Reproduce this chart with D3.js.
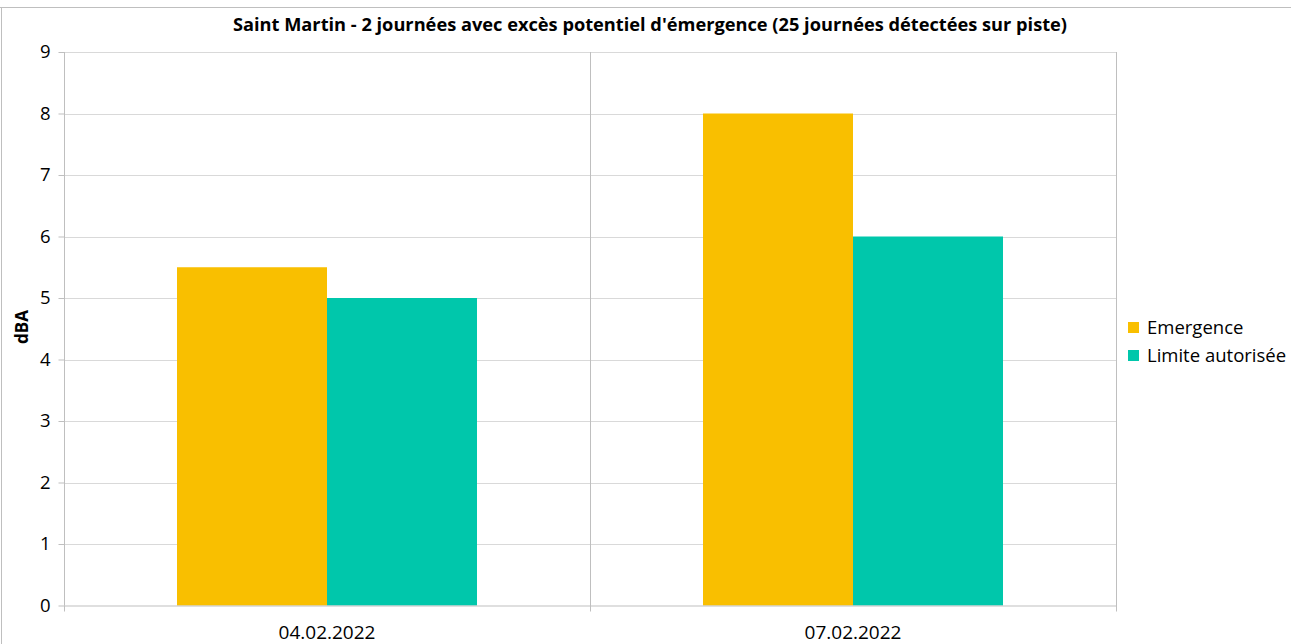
<!DOCTYPE html>
<html><head><meta charset="utf-8">
<script src="https://cdn.jsdelivr.net/npm/d3@7"></script>
<style>body{margin:0;background:#fff}svg{display:block}text{font-family:"Open Sans","Noto Sans",sans-serif;fill:#000}</style>
</head><body><svg id="c" width="1291" height="644"></svg>
<script>
const categories = ["04.02.2022", "07.02.2022"];
const seriesNames = ["Emergence", "Limite autorisée"];
const emergence = [5.5, 8];
const limite = [5, 6];
const yTicks = [0,1,2,3,4,5,6,7,8,9];
const colors = ["#F9BF00", "#00C7AB"];
const titleText = "Saint Martin - 2 journées avec excès potentiel d'émergence (25 journées détectées sur piste)";

const svg = d3.select("#c");
const L = 64, R = 1116, T = 52, B = 605.5;
const x = d3.scaleBand().domain(categories).range([L, R]);
const y = d3.scaleLinear().domain([0, 9]).range([B, T]);
const bw = 150;
const xs = d3.scaleBand().domain(seriesNames).range([0, 2*bw]);

// outer frame
svg.append("line").attr("x1",0).attr("x2",1291).attr("y1",7.5).attr("y2",7.5).attr("stroke","#bfbfbf");
svg.append("line").attr("x1",1.5).attr("x2",1.5).attr("y1",7).attr("y2",644).attr("stroke","#bfbfbf");

// horizontal grid
svg.append("g").selectAll("line").data(yTicks.filter(d=>d>0)).join("line")
  .attr("x1",L).attr("x2",R).attr("y1",d=>Math.round(y(d))+0.5).attr("y2",d=>Math.round(y(d))+0.5)
  .attr("stroke","#d9d9d9");
// vertical grid at category boundaries
const bounds = [L, (L+R)/2, R];
svg.append("g").selectAll("line").data(bounds.slice(1)).join("line")
  .attr("x1",d=>Math.round(d)+0.5).attr("x2",d=>Math.round(d)+0.5).attr("y1",T).attr("y2",B+6)
  .attr("stroke","#bfbfbf");

// bars
const data = categories.map((c,i)=>({c, vals:[emergence[i], limite[i]]}));
const g = svg.append("g");
data.forEach(d=>{
  d.vals.forEach((v,j)=>{
    g.append("rect")
      .attr("x", x(d.c) + (x.bandwidth()-2*bw)/2 + xs(seriesNames[j]))
      .attr("width", xs.bandwidth())
      .attr("y", y(v)).attr("height", y(0)-y(v))
      .attr("fill", colors[j]);
  });
});

// y axis
const ya = svg.append("g").attr("transform",`translate(${L+0.5},0)`)
  .call(d3.axisLeft(y).tickValues(yTicks).tickSize(6).tickPadding(8).tickFormat(d3.format("d")));
ya.select(".domain").attr("stroke","#bfbfbf").attr("d",`M0,${T}V${B}`);
ya.selectAll(".tick line").attr("stroke","#bfbfbf");
ya.selectAll(".tick text").attr("font-size",18.5).attr("font-family","Open Sans").attr("fill","#000");

// x axis
svg.append("line").attr("x1",L).attr("x2",R).attr("y1",B+0.5).attr("y2",B+0.5).attr("stroke","#bfbfbf");
svg.append("line").attr("x1",L+0.5).attr("x2",L+0.5).attr("y1",B).attr("y2",B+6).attr("stroke","#bfbfbf");
svg.append("g").selectAll("text").data(categories).join("text")
  .attr("x",d=>x(d)+x.bandwidth()/2).attr("y",639).attr("text-anchor","middle")
  .attr("font-size",19).text(d=>d);

// y title
svg.append("text").attr("transform","translate(28,327) rotate(-90)").attr("text-anchor","middle")
  .attr("font-size",17).attr("font-weight","bold").text("dBA");

// title
const t = svg.append("text").attr("x",650).attr("y",31).attr("text-anchor","middle")
  .attr("font-size",17).attr("font-weight","bold").text(titleText);
const tl = t.node().getComputedTextLength();
t.attr("font-size", 17*835/tl);

// legend
const lg = svg.append("g").selectAll("g").data(seriesNames).join("g")
  .attr("transform",(d,i)=>`translate(1128,${322+i*28})`);
lg.append("rect").attr("width",11).attr("height",11).attr("fill",(d,i)=>colors[i]);
lg.append("text").attr("x",19).attr("y",11.5).attr("font-size",18.5).text(d=>d);
</script></body></html>
